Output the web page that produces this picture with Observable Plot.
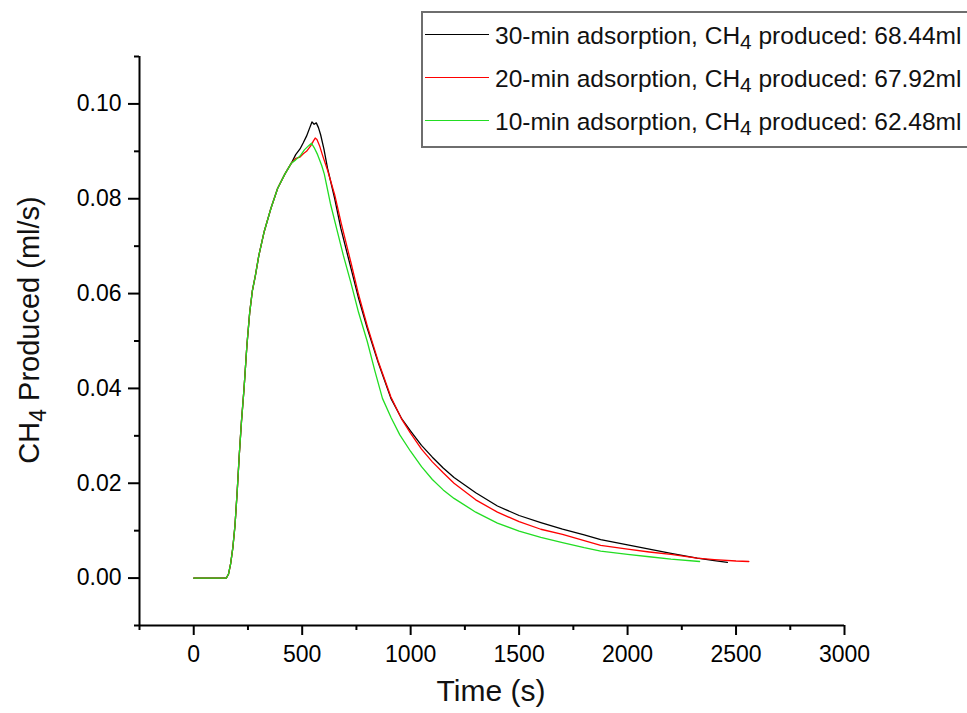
<!DOCTYPE html>
<html><head><meta charset="utf-8">
<script src="https://cdn.jsdelivr.net/npm/d3@7"></script>
<script src="https://cdn.jsdelivr.net/npm/@observablehq/plot@0.6"></script>
<style>
body{margin:0;background:#fff;font-family:"Liberation Sans",Arial,sans-serif;}
#wrap{position:relative;width:967px;height:713px;overflow:hidden;}
#legend{position:absolute;left:421px;top:11px;width:560px;height:133px;border:2px solid #6e6e6e;background:#fff;}
.row{position:absolute;left:0;height:30px;display:flex;align-items:center;font-size:24.5px;color:#111;white-space:nowrap;}
.swatch{width:64px;height:0;border-top:1.5px solid;margin-left:2px;margin-right:6px;position:relative;top:-2px;}
.row sub{font-size:0.85em;position:relative;top:0.3em;vertical-align:baseline;line-height:0;}
</style></head>
<body><div id="wrap"></div>
<script>
// ---- data ----
const seriesNames = ["30-min adsorption", "20-min adsorption", "10-min adsorption"];
const seriesTotals = ["68.44ml", "67.92ml", "62.48ml"];
const seriesColors = ["#000000", "#ff0000", "#22dd22"];

const riseTime = [0, 40, 80, 120, 150, 160, 170, 180, 190, 200, 210, 220, 232, 245, 258, 270, 285, 300, 325, 356, 387, 420, 450];
const riseCH4  = [0, 0, 0, 0, 0, 0.0008, 0.003, 0.0063, 0.011, 0.018, 0.026, 0.033, 0.040, 0.049, 0.056, 0.0605, 0.064, 0.068, 0.0731, 0.078, 0.0822, 0.0852, 0.0875];

const time30 = [470, 490, 505, 520, 535, 545, 555, 565, 575, 585, 600, 617, 650, 678, 725, 760, 800, 850, 909, 960, 1000, 1050, 1100, 1150, 1200, 1300, 1400, 1500, 1600, 1700, 1800, 1876, 2000, 2100, 2200, 2321, 2400, 2460];
const ch4_30  = [0.0893, 0.0905, 0.0918, 0.0932, 0.0950, 0.0962, 0.0957, 0.0960, 0.0950, 0.0935, 0.0905, 0.0864, 0.0800, 0.0738, 0.0653, 0.0590, 0.0527, 0.0455, 0.0379, 0.0335, 0.0310, 0.0280, 0.0255, 0.0232, 0.0212, 0.0180, 0.0152, 0.0132, 0.0117, 0.0103, 0.0091, 0.0081, 0.0070, 0.0061, 0.0052, 0.0042, 0.0037, 0.0033];

const time20 = [470, 490, 505, 520, 540, 552, 560, 568, 580, 595, 617, 650, 680, 725, 760, 800, 850, 909, 960, 1000, 1050, 1100, 1150, 1200, 1300, 1400, 1500, 1600, 1700, 1800, 1876, 2000, 2100, 2200, 2321, 2400, 2500, 2559];
const ch4_20  = [0.0885, 0.0888, 0.0895, 0.0900, 0.0912, 0.0922, 0.0928, 0.0925, 0.0912, 0.0890, 0.0860, 0.0808, 0.0748, 0.0665, 0.0598, 0.0532, 0.0458, 0.0382, 0.0334, 0.0305, 0.0272, 0.0245, 0.0222, 0.0200, 0.0165, 0.0139, 0.0119, 0.0103, 0.0092, 0.0079, 0.0069, 0.0061, 0.0055, 0.0050, 0.0042, 0.0039, 0.0036, 0.0035];

const time10 = [470, 490, 510, 530, 543, 555, 571, 590, 602, 630, 660, 690, 725, 760, 800, 835, 870, 910, 950, 1000, 1050, 1100, 1150, 1200, 1300, 1400, 1500, 1600, 1700, 1800, 1876, 2000, 2100, 2200, 2332];
const ch4_10  = [0.0882, 0.0890, 0.0903, 0.0912, 0.0917, 0.0908, 0.0893, 0.0870, 0.0852, 0.0790, 0.0735, 0.0680, 0.0622, 0.0560, 0.0499, 0.0437, 0.0379, 0.0338, 0.0302, 0.0267, 0.0235, 0.0208, 0.0186, 0.0168, 0.0139, 0.0116, 0.0099, 0.0086, 0.0075, 0.0064, 0.0057, 0.0050, 0.0045, 0.0040, 0.0035];

const xDomain = [-250, 3000];
const yDomain = [-0.01, 0.11];
const xMajorTicks = [0, 500, 1000, 1500, 2000, 2500, 3000];
const xMinorTicks = [-250, 250, 750, 1250, 1750, 2250, 2750];
const yMajorTicks = [0.00, 0.02, 0.04, 0.06, 0.08, 0.10];
const yMinorTicks = [-0.01, 0.01, 0.03, 0.05, 0.07, 0.09, 0.11];

// ---- build table ----
const seriesTimes = [time30, time20, time10];
const seriesValues = [ch4_30, ch4_20, ch4_10];
const rows = [];
seriesNames.forEach((name, i) => {
  const ts = riseTime.concat(seriesTimes[i]);
  const vs = riseCH4.concat(seriesValues[i]);
  ts.forEach((t, j) => rows.push({series: name, t, v: vs[j]}));
});

const font = '"Liberation Sans", Arial, sans-serif';
const chart = Plot.plot({
  width: 967,
  height: 713,
  marginLeft: 139,
  marginRight: 123,
  marginTop: 56,
  marginBottom: 88,
  style: {fontFamily: font, fontSize: "23px", color: "#000", background: "#fff"},
  x: {domain: xDomain, axis: null},
  y: {domain: yDomain, axis: null},
  color: {domain: seriesNames, range: seriesColors},
  marks: [
    Plot.line(rows, {x: "t", y: "v", z: "series", stroke: "series", strokeWidth: 1.3}),
    Plot.ruleX([xDomain[0]], {stroke: "#000", strokeWidth: 2}),
    Plot.ruleY([yDomain[0]], {stroke: "#000", strokeWidth: 2}),
    Plot.axisX(xMajorTicks, {anchor: "bottom", tickSize: 10, tickPadding: 10, strokeWidth: 2, fontSize: 23, label: null, tickFormat: d => String(d)}),
    Plot.axisX(xMinorTicks, {anchor: "bottom", tickSize: 5, strokeWidth: 2, label: null, tickFormat: () => ""}),
    Plot.axisY(yMajorTicks, {anchor: "left", tickSize: 11, tickPadding: 7, strokeWidth: 2, fontSize: 23, label: null, tickFormat: d3.format(".2f")}),
    Plot.axisY(yMinorTicks, {anchor: "left", tickSize: 5, strokeWidth: 2, label: null, tickFormat: () => ""})
  ]
});

const wrap = document.getElementById("wrap");
wrap.appendChild(chart);

// axis titles
const svg = d3.select(chart);
svg.append("text")
  .attr("x", 491).attr("y", 701)
  .attr("text-anchor", "middle")
  .attr("font-family", font).attr("font-size", 30).attr("fill", "#111")
  .text("Time (s)");
const yt = svg.append("text")
  .attr("transform", "translate(39,330) rotate(-90)")
  .attr("text-anchor", "middle")
  .attr("font-family", font).attr("font-size", 29).attr("fill", "#111");
yt.append("tspan").text("CH");
yt.append("tspan").attr("font-size", 23).attr("dy", 7).text("4");
yt.append("tspan").attr("dy", -7).text(" Produced (ml/s)");

// legend
const legend = document.createElement("div");
legend.id = "legend";
const rowTops = [8, 51, 94];
seriesNames.forEach((name, i) => {
  const r = document.createElement("div");
  r.className = "row";
  r.style.top = rowTops[i] + "px";
  r.innerHTML = `<span class="swatch" style="border-color:${seriesColors[i]}"></span>${name}, CH<sub>4</sub>&nbsp;produced: ${seriesTotals[i]}`;
  legend.appendChild(r);
});
wrap.appendChild(legend);
</script></body></html>
